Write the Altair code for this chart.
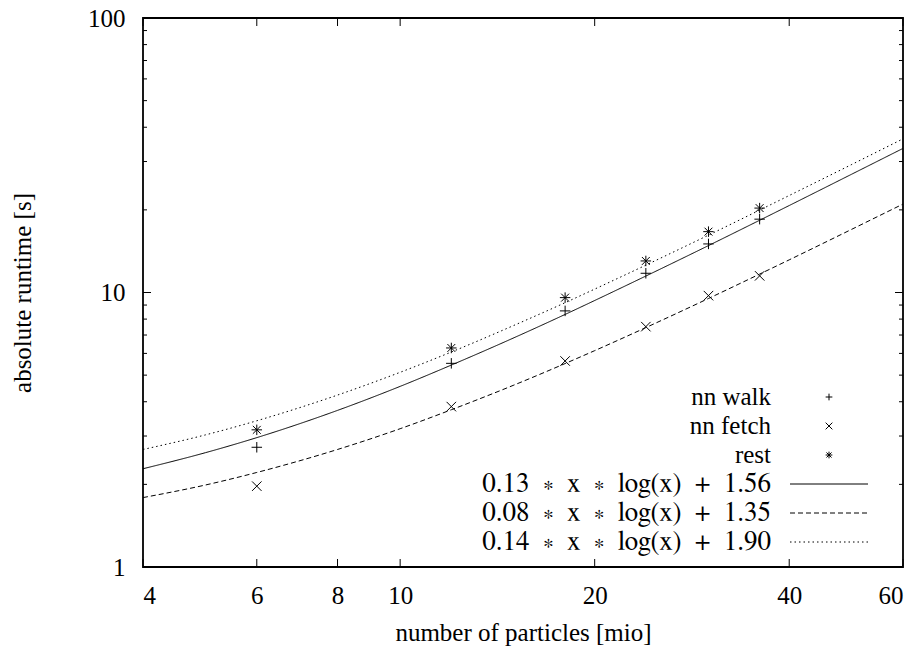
import altair as alt
import pandas as pd

# ---- data ----
pts_x = [6, 12, 18, 24, 30, 36]
nn_walk = [2.73, 5.52, 8.57, 11.75, 15.03, 18.5]
nn_fetch = [1.97, 3.84, 5.63, 7.51, 9.74, 11.5]
rest = [3.16, 6.28, 9.58, 13.03, 16.66, 20.3]

fit_x = [4, 5, 6, 8, 10, 12, 15, 18, 20, 24, 30, 36, 40, 50, 60]
fit_walk = [2.28, 2.61, 2.96, 3.72, 4.55, 5.44, 6.84, 8.32, 9.35, 11.48, 14.82, 18.33, 20.74, 26.99, 33.49]
fit_fetch = [1.79, 1.99, 2.21, 2.68, 3.19, 3.74, 4.60, 5.51, 6.14, 7.45, 9.51, 11.67, 13.15, 17.00, 21.00]
fit_rest = [2.68, 3.03, 3.41, 4.23, 5.12, 6.07, 7.59, 9.18, 10.29, 12.58, 16.18, 19.96, 22.56, 29.28, 36.29]

fit_labels = ["0.13 ∗ x ∗ log(x) + 1.56", "0.08 ∗ x ∗ log(x) + 1.35", "0.14 ∗ x ∗ log(x) + 1.90"]
point_labels = ["nn walk", "nn fetch", "rest"]

x_ticks = [4, 6, 8, 10, 20, 40, 60]
y_major = [1, 10, 100]
y_minor = [2, 3, 4, 5, 6, 7, 8, 9, 20, 30, 40, 50, 60, 70, 80, 90]

W, H = 760, 549
FONT = "Liberation Serif"
MATHFONT = "FreeSerif, Liberation Serif, serif"
FS = 25
MFS = 27

PLUS = "M-1,0L1,0M0,-1L0,1"
CROSS = "M-1,-1L1,1M-1,1L1,-1"
STAR = "M-1,0L1,0M0,-1L0,1M-0.75,-0.75L0.75,0.75M-0.75,0.75L0.75,-0.75"
DASHES = [[1, 0], [5, 3], [1.5, 3]]

xs = alt.Scale(type="log", domain=[4, 60], nice=False)
ys = alt.Scale(type="log", domain=[1, 100], nice=False)

fit_rows = []
for lab, vals in zip(fit_labels, [fit_walk, fit_fetch, fit_rest]):
    for xv, yv in zip(fit_x, vals):
        fit_rows.append({"x": xv, "y": yv, "fit": lab})
fit_df = pd.DataFrame(fit_rows)

x_axis = alt.Axis(values=x_ticks, format="d", ticks=False, domain=False, grid=False,
                  labelFont=FONT, labelFontSize=FS, labelColor="black", labelPadding=16,
                  title="number of particles [mio]", titleFont=FONT, titleFontSize=FS,
                  titleFontWeight="normal", titleColor="black", titlePadding=12)
y_axis = alt.Axis(values=y_major, format="d", ticks=False, domain=False, grid=False,
                  labelFont=FONT, labelFontSize=FS, labelColor="black", labelPadding=18,
                  title="absolute runtime [s]", titleFont=FONT, titleFontSize=FS,
                  titleFontWeight="normal", titleColor="black", titlePadding=52)

lines = alt.Chart(fit_df).mark_line(color="black", strokeWidth=1, interpolate="monotone").encode(
    x=alt.X("x:Q", scale=xs, axis=x_axis),
    y=alt.Y("y:Q", scale=ys, axis=y_axis),
    strokeDash=alt.StrokeDash("fit:N", scale=alt.Scale(domain=fit_labels, range=DASHES), legend=None),
    detail="fit:N",
)

def pts(vals, shape, size=110, sw=1):
    df = pd.DataFrame({"x": pts_x, "y": vals})
    return alt.Chart(df).mark_point(shape=shape, size=size, color="black", filled=False,
                                    strokeWidth=sw, opacity=1).encode(
        x=alt.X("x:Q", scale=xs), y=alt.Y("y:Q", scale=ys))

p_walk = pts(nn_walk, PLUS)
p_fetch = pts(nn_fetch, CROSS, size=90)
p_rest = pts(rest, STAR, size=110, sw=1)

# inward ticks
xt = pd.DataFrame({"v": x_ticks})
xtb = alt.Chart(xt).mark_rule(color="black", strokeWidth=1).encode(
    x=alt.X("v:Q", scale=xs), y=alt.value(H), y2=alt.value(H - 8))
xtt = alt.Chart(xt).mark_rule(color="black", strokeWidth=1).encode(
    x=alt.X("v:Q", scale=xs), y=alt.value(0), y2=alt.value(8))
ymaj = pd.DataFrame({"v": y_major})
ymin = pd.DataFrame({"v": y_minor})
def yticks(df, length):
    l = alt.Chart(df).mark_rule(color="black", strokeWidth=1).encode(
        y=alt.Y("v:Q", scale=ys), x=alt.value(0), x2=alt.value(length))
    r = alt.Chart(df).mark_rule(color="black", strokeWidth=1).encode(
        y=alt.Y("v:Q", scale=ys), x=alt.value(W), x2=alt.value(W - length))
    return [l, r]

# manual legend (gnuplot style: label on the left, sample on the right)
TX, SX, L0, L1 = 628, 686, 647, 725
rows_y = [379, 408, 437, 466, 495, 524]
legend_layers = []
for i, lab in enumerate(point_labels + fit_labels):
    is_math = i >= 3
    shown = lab.replace(" ", "\u2002") if is_math else lab
    legend_layers.append(
        alt.Chart(pd.DataFrame({"t": [shown]})).mark_text(
            align="right", baseline="middle", font=(MATHFONT if is_math else FONT),
            fontSize=(MFS if is_math else FS), color="black"
        ).encode(text="t:N", x=alt.value(TX), y=alt.value(rows_y[i]))
    )
for i, shape in enumerate([PLUS, CROSS, STAR]):
    legend_layers.append(
        alt.Chart(pd.DataFrame({"t": [point_labels[i]]})).mark_point(
            shape=shape, size=45, color="black", filled=False, strokeWidth=1, opacity=1
        ).encode(x=alt.value(SX), y=alt.value(rows_y[i]))
    )
for i, dash in enumerate(DASHES):
    legend_layers.append(
        alt.Chart(pd.DataFrame({"t": [fit_labels[i]]})).mark_rule(
            color="black", strokeWidth=1, strokeDash=dash
        ).encode(x=alt.value(L0), x2=alt.value(L1), y=alt.value(rows_y[3 + i]))
    )

chart = alt.layer(
    lines, p_walk, p_fetch, p_rest, xtb, xtt,
    *yticks(ymaj, 8), *yticks(ymin, 4),
    *legend_layers,
).properties(
    width=W, height=H,
    background="white",
    autosize=alt.AutoSizeParams(type="none"),
    padding={"left": 143, "top": 18, "right": 20, "bottom": 88},
).configure_view(stroke="black", strokeWidth=1.8)

chart.save("out.html", embed_options={"renderer": "svg", "actions": False})
